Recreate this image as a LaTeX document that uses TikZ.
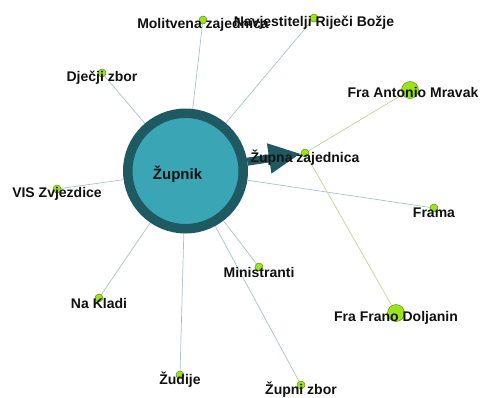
\documentclass[tikz,border=0pt]{standalone}
\usepackage{fontspec}
\setmainfont{Liberation Sans}
\usetikzlibrary{arrows.meta, positioning, backgrounds}
\definecolor{ringcol}{HTML}{1F5A62}
\definecolor{hubfill}{HTML}{3AA6B5}
\definecolor{dotfill}{HTML}{9BE31C}
\definecolor{dotline}{HTML}{5E8F12}
\definecolor{edgeblue}{HTML}{A9C3C8}
\definecolor{edgeolive}{HTML}{C9CFA0}
\definecolor{txtcol}{HTML}{111111}

\begin{document}
\begin{tikzpicture}[x=1pt, y=-1pt,
    hub/.style={circle, draw=ringcol, line width=9.5pt, fill=hubfill, minimum size=115.5pt, inner sep=0pt},
    dot/.style={circle, draw=dotline, line width=0.5pt, fill=dotfill, minimum size=8pt, inner sep=0pt},
    bigdot/.style={dot, minimum size=17pt},
    lbl/.style={font=\fontsize{14}{16}\selectfont\bfseries, text=txtcol, anchor=base, yshift=-5pt, inner sep=0pt},
    hublbl/.style={lbl, font=\fontsize{15}{17}\selectfont\bfseries, xshift=-8pt},
    edge/.style={draw=edgeblue, line width=0.7pt},
    oedge/.style={draw=edgeolive, line width=0.7pt},
    zarrow/.style={draw=ringcol, line width=8pt, -{Triangle[length=32pt, width=28pt]}}]
    \useasboundingbox (0,0) rectangle (480,397);

    % Trung tâm
    \node[hub, label={[hublbl, yshift=1.5pt]center:Župnik}] (zup) at (185.5, 171) {};

    % Các nhóm xung quanh
    \node[dot, label={[lbl]center:Molitvena zajednica}] (mol) at (203, 20) {};
    \node[dot, label={[lbl]center:Navjestitelji Riječi Božje}] (nav) at (314, 18) {};
    \node[dot, label={[lbl]center:Dječji zbor}] (djz) at (102, 73) {};
    \node[bigdot, label={[lbl, xshift=3pt, yshift=3pt]center:Fra Antonio Mravak}] (ant) at (410, 90) {};
    \node[dot, label={[lbl]center:Župna zajednica}] (zz) at (305, 153) {};
    \node[dot, label={[lbl]center:VIS Zvjezdice}] (vis) at (57, 189) {};
    \node[dot, label={[lbl]center:Frama}] (fra) at (434, 208) {};
    \node[dot, label={[lbl]center:Ministranti}] (min) at (259, 267) {};
    \node[dot, label={[lbl]center:Na Kladi}] (nak) at (99, 298) {};
    \node[bigdot, label={[lbl]center:Fra Frano Doljanin}] (fdo) at (396, 313) {};
    \node[dot, label={[lbl]center:Žudije}] (zud) at (180, 375) {};
    \node[dot, label={[lbl]center:Župni zbor}] (zbo) at (301, 385) {};

    % Các cạnh
    \begin{scope}[on background layer]
        \foreach \n in {mol, nav, djz, vis, fra, min, nak, zud, zbo}
            \draw[edge] (zup) -- (\n);
        \draw[oedge] (zz) -- (ant);
        \draw[oedge] (zz) -- (fdo);
        \draw[zarrow] (zup) -- (zz);
    \end{scope}
\end{tikzpicture}
\end{document}
